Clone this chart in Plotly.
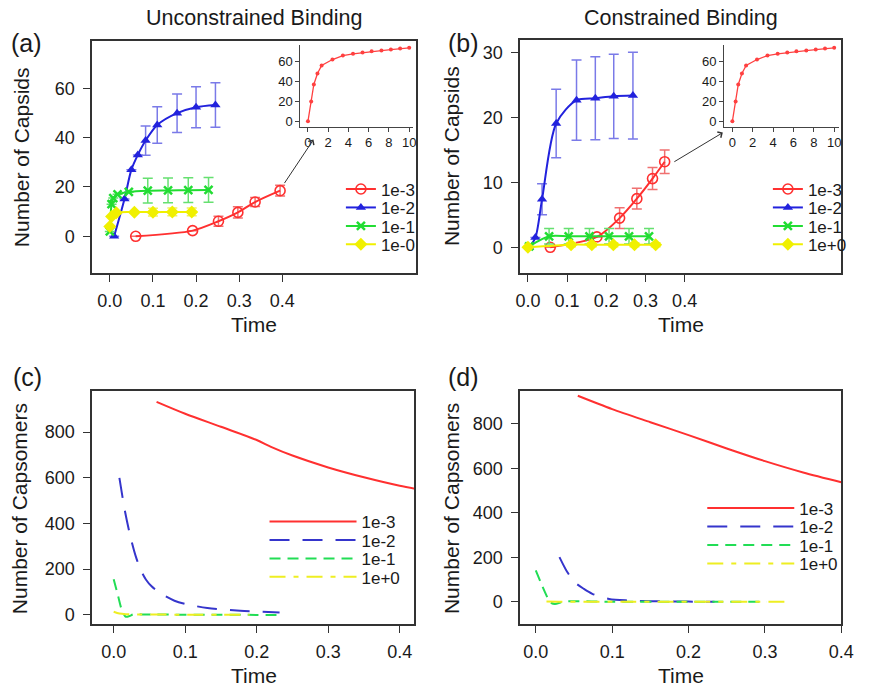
import plotly.graph_objects as go

# ---------------- data ----------------
names_a = ["1e-3", "1e-2", "1e-1", "1e-0"]
names_b = ["1e-3", "1e-2", "1e-1", "1e+0"]

# Panel (a): Unconstrained binding, number of capsids
a_red_t = [0.060, 0.192, 0.252, 0.297, 0.337, 0.395]
a_red_y = [0.0, 2.3, 6.1, 9.7, 13.9, 18.5]
a_red_e = [0, 0, 2.0, 2.3, 1.8, 2.2]

a_blue_t = [0.010, 0.034, 0.050, 0.065, 0.083, 0.110, 0.156, 0.200, 0.245]
a_blue_y = [0.0, 15.1, 27.0, 33.0, 38.8, 45.1, 49.9, 52.3, 53.2]
a_blue_e = [0, 0, 0, 0, 5.9, 7.4, 7.8, 8.3, 9.0]

a_green_t = [0.000, 0.004, 0.008, 0.018, 0.044, 0.088, 0.135, 0.182, 0.229]
a_green_y = [2.0, 13.0, 15.5, 17.0, 18.0, 18.5, 18.6, 18.7, 18.8]
a_green_e = [0, 0, 0, 0, 0, 5.0, 5.0, 5.0, 5.0]

a_yel_t = [0.000, 0.004, 0.015, 0.057, 0.100, 0.145, 0.190]
a_yel_y = [4.0, 8.0, 9.5, 9.8, 9.8, 9.9, 9.9]
a_yel_e = [0, 0, 0, 0, 1.6, 1.6, 1.6]

# Panel (b): Constrained binding, number of capsids
b_red_t = [0.057, 0.176, 0.234, 0.278, 0.318, 0.349]
b_red_y = [0.0, 1.6, 4.5, 7.5, 10.6, 13.2]
b_red_e = [0, 0, 1.6, 1.6, 1.7, 1.8]

b_blue_t = [0.003, 0.019, 0.036, 0.072, 0.124, 0.172, 0.219, 0.268]
b_blue_y = [0.0, 1.5, 7.4, 19.1, 22.7, 23.0, 23.3, 23.4]
b_blue_e = [0, 0, 2.4, 5.3, 6.2, 6.4, 6.5, 6.7]

b_green_t = [0.003, 0.054, 0.104, 0.157, 0.207, 0.258, 0.309]
b_green_y = [0.15, 1.7, 1.7, 1.7, 1.7, 1.7, 1.7]
b_green_e = [0, 1.2, 1.2, 1.2, 1.2, 1.2, 1.2]

b_yel_t = [0.000, 0.110, 0.163, 0.218, 0.272, 0.326]
b_yel_y = [0.0, 0.4, 0.4, 0.4, 0.4, 0.4]
b_yel_e = [0, 0.3, 0.3, 0.3, 0.3, 0.3]

# Insets (1e-3 over a long time)
ins_t = [0, 0.32, 0.58, 0.94, 1.35, 2.42, 3.45, 4.45, 5.39, 6.29, 7.26, 8.19, 9.10, 10.0]
ins_y = [0, 20, 37, 48, 56, 62, 66, 67.7, 69, 70.3, 71, 72, 73, 73.7]

# Panel (c): Unconstrained binding, number of capsomers
c_red_t = [0.06, 0.10, 0.15, 0.20, 0.22, 0.25, 0.30, 0.35, 0.40, 0.425]
c_red_y = [932, 880, 823, 765, 735, 697, 645, 602, 565, 550]
c_blue_t = [0.008, 0.016, 0.024, 0.031, 0.038, 0.045, 0.053, 0.065, 0.085, 0.100, 0.131, 0.177, 0.232]
c_blue_y = [599, 450, 335, 255, 195, 155, 125, 95, 62, 48, 30, 18, 11]
c_green_t = [0.0, 0.006, 0.012, 0.017, 0.022, 0.028, 0.04, 0.10, 0.15, 0.20, 0.232]
c_green_y = [156, 85, 16, -8, -5, 3, 2, 1, 1, 0, 0]
c_yel_t = [0.0, 0.008, 0.017, 0.030, 0.10, 0.15, 0.19]
c_yel_y = [14, 6, 3, 2, 1, 0.5, 0.3]

# Panel (d): Constrained binding, number of capsomers
d_red_t = [0.055, 0.10, 0.15, 0.20, 0.25, 0.30, 0.35, 0.40]
d_red_y = [927, 867, 808, 750, 690, 633, 582, 538]
d_blue_t = [0.031, 0.041, 0.051, 0.063, 0.074, 0.096, 0.121, 0.15, 0.20, 0.234]
d_blue_y = [201, 135, 88, 58, 36, 13, 6, 3, 1, 0]
d_green_t = [0.0, 0.008, 0.015, 0.018, 0.025, 0.036, 0.10, 0.20, 0.302]
d_green_y = [141, 75, 21, 0, -10, 1, 0, 0, 0]
d_yel_t = [0.014, 0.03, 0.10, 0.20, 0.328]
d_yel_y = [1, 0.5, 0.2, 0.1, 0]

time_ticks = [0.0, 0.1, 0.2, 0.3, 0.4]
inset_xticks = [0, 2, 4, 6, 8, 10]
inset_yticks = [0, 20, 40, 60]

# ---------------- style ----------------
W, H = 870, 688
FONT = "Liberation Sans, Arial, Helvetica, sans-serif"
TXT = "#1a1a1a"
AX = "#333333"
RED, BLUE, GREEN, YEL = "#ff3030", "#2222dd", "#22dd33", "#f0f000"
RED_E, BLUE_E, GREEN_E, YEL_E = "#f07070", "#7a7ae8", "#66e070", "#f2f060"


def px_x(p):
    return p / W


def px_y(p):
    return 1 - p / H


fig = go.Figure()
legends = {}
leg_count = [0]


def new_legend(xline, yrow, itemwidth):
    leg_count[0] += 1
    key = "legend" if leg_count[0] == 1 else "legend%d" % leg_count[0]
    legends[key] = dict(
        x=px_x(xline - 5), y=px_y(yrow), xanchor="left", yanchor="middle",
        bgcolor="rgba(0,0,0,0)", borderwidth=0, itemwidth=itemwidth,
        font=dict(family=FONT, size=17, color=TXT),
    )
    return key


def capsid_trace(t, y, e, name, color, ecolor, marker, xa, ya, xline, yrow):
    lk = new_legend(xline, yrow, 30)
    fig.add_trace(go.Scatter(
        x=t, y=y, name=name, mode="lines+markers",
        line=dict(color=color, width=2, shape="spline", smoothing=0.8),
        marker=marker,
        error_y=dict(type="data", array=e, visible=True, color=ecolor, thickness=1.5, width=5),
        xaxis=xa, yaxis=ya, legend=lk, showlegend=True,
    ))


m_red = dict(symbol="circle-open", size=10, color=RED, line=dict(width=1.6, color=RED))
m_blue = dict(symbol="triangle-up", size=9, color=BLUE)
m_green = dict(symbol="x-thin-open", size=8, color=GREEN, line=dict(width=2.5, color=GREEN))
m_yel = dict(symbol="diamond", size=10, color=YEL)

rows_ab = [190, 208.5, 227, 245.5]
# panel (a)
capsid_trace(a_red_t, a_red_y, a_red_e, names_a[0], RED, RED_E, m_red, "x", "y", 348, rows_ab[0])
capsid_trace(a_blue_t, a_blue_y, a_blue_e, names_a[1], BLUE, BLUE_E, m_blue, "x", "y", 348, rows_ab[1])
capsid_trace(a_green_t, a_green_y, a_green_e, names_a[2], GREEN, GREEN_E, m_green, "x", "y", 348, rows_ab[2])
capsid_trace(a_yel_t, a_yel_y, a_yel_e, names_a[3], YEL, YEL_E, m_yel, "x", "y", 348, rows_ab[3])
# panel (b)
capsid_trace(b_red_t, b_red_y, b_red_e, names_b[0], RED, RED_E, m_red, "x2", "y2", 784, rows_ab[0])
capsid_trace(b_blue_t, b_blue_y, b_blue_e, names_b[1], BLUE, BLUE_E, m_blue, "x2", "y2", 784, rows_ab[1])
capsid_trace(b_green_t, b_green_y, b_green_e, names_b[2], GREEN, GREEN_E, m_green, "x2", "y2", 784, rows_ab[2])
capsid_trace(b_yel_t, b_yel_y, b_yel_e, names_b[3], YEL, YEL_E, m_yel, "x2", "y2", 784, rows_ab[3])

dashes = ["solid", "20px,13px", "11px,7px", "16px,8px,5px,8px"]
cols_cd = [RED, "#3535cc", "#22dd55", "#eeee22"]


def capsomer_trace(t, y, i, xa, ya, xline, yrow):
    lk = new_legend(xline, yrow, 87)
    fig.add_trace(go.Scatter(
        x=t, y=y, name=names_b[i], mode="lines",
        line=dict(color=cols_cd[i], width=2, dash=dashes[i], shape="spline", smoothing=0.8),
        xaxis=xa, yaxis=ya, legend=lk, showlegend=True,
    ))


rows_c = [523.5, 542, 560.5, 579]
rows_d = [510, 528.5, 547, 565.5]
capsomer_trace(c_red_t, c_red_y, 0, "x3", "y3", 270, rows_c[0])
capsomer_trace(c_blue_t, c_blue_y, 1, "x3", "y3", 270, rows_c[1])
capsomer_trace(c_green_t, c_green_y, 2, "x3", "y3", 270, rows_c[2])
capsomer_trace(c_yel_t, c_yel_y, 3, "x3", "y3", 270, rows_c[3])
capsomer_trace(d_red_t, d_red_y, 0, "x4", "y4", 717, rows_d[0])
capsomer_trace(d_blue_t, d_blue_y, 1, "x4", "y4", 717, rows_d[1])
capsomer_trace(d_green_t, d_green_y, 2, "x4", "y4", 717, rows_d[2])
capsomer_trace(d_yel_t, d_yel_y, 3, "x4", "y4", 717, rows_d[3])

# insets
for xa, ya in (("x5", "y5"), ("x6", "y6")):
    fig.add_trace(go.Scatter(
        x=ins_t, y=ins_y, mode="lines+markers", showlegend=False,
        line=dict(color="#ff4040", width=1.3),
        marker=dict(symbol="circle", size=4, color="#ff4040"),
        xaxis=xa, yaxis=ya,
    ))


def main_x(dom, rng):
    return dict(domain=dom, range=rng, tickvals=time_ticks, tickformat=".1f",
                ticks="outside", ticklen=7, tickwidth=1.3, tickcolor=AX,
                showline=True, linecolor=AX, linewidth=1.5, mirror=True,
                showgrid=False, zeroline=False, ticklabelstandoff=3,
                tickfont=dict(family=FONT, size=18, color=TXT))


def main_y(dom, rng, tv):
    return dict(domain=dom, range=rng, tickvals=tv,
                ticks="outside", ticklen=7, tickwidth=1.3, tickcolor=AX,
                showline=True, linecolor=AX, linewidth=1.5, mirror=True,
                showgrid=False, zeroline=False, ticklabelstandoff=5,
                tickfont=dict(family=FONT, size=18, color=TXT))


def inset_x(dom, rng, anchor):
    return dict(domain=dom, range=rng, tickvals=inset_xticks, anchor=anchor,
                ticks="outside", ticklen=4, tickwidth=1, tickcolor="#444",
                showline=True, linecolor="#444", linewidth=1.2, mirror=False,
                showgrid=False, zeroline=False,
                tickfont=dict(family=FONT, size=13, color=TXT))


def inset_y(dom, rng, anchor):
    return dict(domain=dom, range=rng, tickvals=inset_yticks, anchor=anchor,
                ticks="outside", ticklen=4, tickwidth=1, tickcolor="#444",
                showline=True, linecolor="#444", linewidth=1.2, mirror=False,
                showgrid=False, zeroline=False,
                tickfont=dict(family=FONT, size=13, color=TXT))


xa = main_x([px_x(89), px_x(420)], [-0.041, 0.711]); xa["anchor"] = "y"
ya = main_y([px_y(274), px_y(41)], [-14.95, 79.2], [0, 20, 40, 60]); ya["anchor"] = "x"
xb = main_x([px_x(526), px_x(854)], [-0.02, 0.80]); xb["anchor"] = "y2"
yb = main_y([px_y(274), px_y(40)], [-4.0, 32.0], [0, 10, 20, 30]); yb["anchor"] = "x2"
xc = main_x([px_x(89), px_x(418)], [-0.0301, 0.4205]); xc["anchor"] = "y3"
yc = main_y([px_y(626), px_y(392)], [-40.6, 980], [0, 200, 400, 600, 800]); yc["anchor"] = "x3"
xd = main_x([px_x(526), px_x(854)], [-0.0205, 0.40]); xd["anchor"] = "y4"
yd = main_y([px_y(626), px_y(392)], [-100.5, 949], [0, 200, 400, 600, 800]); yd["anchor"] = "x4"

xi1 = inset_x([px_x(301.7), px_x(417)], [-0.74, 10.41], "y5")
yi1 = inset_y([px_y(127), px_y(45)], [-5.3, 76.7], "x5")
xi2 = inset_x([px_x(734.3), px_x(851.7)], [-0.81, 10.48], "y6")
yi2 = inset_y([px_y(127), px_y(45)], [-5.3, 76.7], "x6")


def ann(text, x, y, size, angle=0, yanchor="middle", yshift=0):
    return dict(text=text, x=px_x(x), y=px_y(y), xref="paper", yref="paper",
                xanchor="center", yanchor=yanchor, showarrow=False, textangle=angle,
                yshift=yshift, font=dict(family=FONT, size=size, color=TXT))


annotations = [
    ann("Unconstrained Binding", 254, 18, 21.5),
    ann("Constrained Binding", 690, 18, 21.5),
    ann("(a)", 22, 43, 25), ann("(b)", 468, 43, 25),
    ann("(c)", 23, 378, 25), ann("(d)", 468, 378, 25),
    ann("Number of Capsids", 17, 158, 21, -90),
    ann("Number of Capsids", 456, 157, 21, -90),
    ann("Number of Capsomers", 15, 510, 21, -90),
    ann("Number of Capsomers", 456, 510, 21, -90),
    ann("Time", 254, 325, 21), ann("Time", 690, 325, 21),
    ann("Time", 254, 688, 21, 0, "bottom", -3), ann("Time", 690, 688, 21, 0, "bottom", -3),
    dict(x=px_x(315), y=px_y(140), xref="paper", yref="paper", text="",
         showarrow=True, ax=-30, ay=45, arrowhead=4, arrowsize=1.3,
         arrowwidth=1, arrowcolor="#333"),
    dict(x=px_x(733), y=px_y(133), xref="paper", yref="paper", text="",
         showarrow=True, ax=-50, ay=30, arrowhead=4, arrowsize=1.3,
         arrowwidth=1, arrowcolor="#333"),
]

layout = dict(
    width=W, height=H, autosize=False,
    margin=dict(l=0, r=0, t=0, b=0, pad=0),
    paper_bgcolor="white", plot_bgcolor="white",
    font=dict(family=FONT, color=TXT),
    xaxis=xa, yaxis=ya, xaxis2=xb, yaxis2=yb, xaxis3=xc, yaxis3=yc,
    xaxis4=xd, yaxis4=yd, xaxis5=xi1, yaxis5=yi1, xaxis6=xi2, yaxis6=yi2,
    annotations=annotations,
)
layout.update(legends)
fig.update_layout(**layout)

fig.write_html("out.html", config={"displayModeBar": False},
               post_script="document.body.style.margin='0px';document.body.style.overflow='hidden';")
